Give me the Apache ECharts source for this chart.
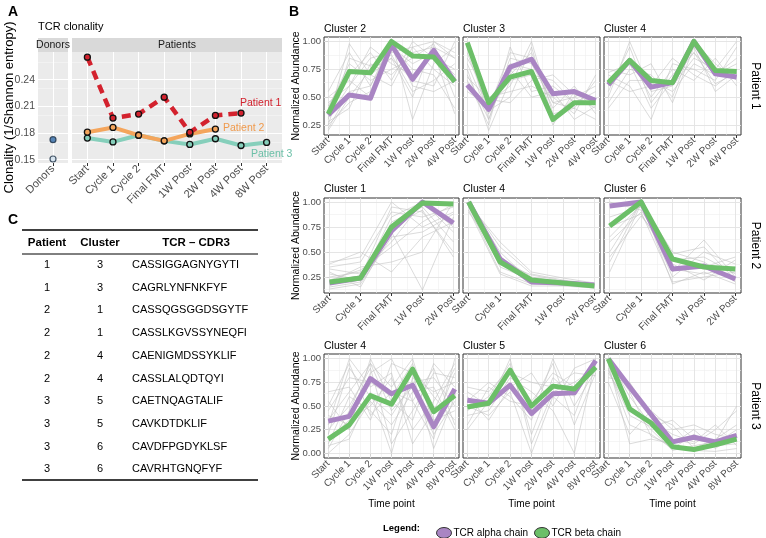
<!DOCTYPE html>
<html><head><meta charset="utf-8">
<script src="https://cdn.jsdelivr.net/npm/echarts@6/dist/echarts.min.js"></script>
<style>html,body{margin:0;padding:0;background:#fff}#c{width:766px;height:538px}</style>
</head><body><div id="c"></div>
<script>
// ================= DATA =================
// Panel A: TCR clonality
const donorCats = ['Donors'];
const clonalityCats = ['Start','Cycle 1','Cycle 2','Final FMT','1W Post','2W Post','4W Post','8W Post'];
const donorValues = [0.1725, 0.1508];
const patient1Clonality = [0.2654, 0.1969, 0.2013, 0.2204, 0.1807, 0.1998, 0.2025, null];
const patient2Clonality = [0.1810, 0.1863, 0.1775, 0.1712, 0.1790, 0.1845, null, null];
const patient3Clonality = [0.1744, 0.1700, 0.1775, 0.1712, 0.1672, 0.1736, 0.1660, 0.1694];
const clonalityTicks = [0.15, 0.18, 0.21, 0.24];

// Panel B: normalized abundance per cluster
const p1Cats = ['Start','Cycle 1','Cycle 2','Final FMT','1W Post','2W Post','4W Post'];
const p2Cats = ['Start','Cycle 1','Final FMT','1W Post','2W Post'];
const p3Cats = ['Start','Cycle 1','Cycle 2','1W Post','2W Post','4W Post','8W Post'];
const abundanceTicks = [0.25, 0.50, 0.75, 1.00];
const abundanceTicksP3 = [0.00, 0.25, 0.50, 0.75, 1.00];

const p1c2Alpha = [0.34,0.52,0.49,0.97,0.66,0.92,0.64];
const p1c2Beta  = [0.35,0.73,0.72,1.00,0.87,0.86,0.64];
const p1c2Grey = [
 [0.22,0.55,0.60,0.95,0.80,0.90,0.70],[0.30,0.98,0.70,0.85,0.50,1.00,0.85],
 [0.45,0.60,0.85,0.90,0.95,0.75,0.60],[0.25,0.45,0.55,1.00,0.30,0.80,0.95],
 [0.40,0.80,0.65,0.75,0.85,0.98,0.50],[0.20,0.50,0.75,0.85,0.65,0.60,1.00],
 [0.35,0.70,0.90,0.65,1.00,0.85,0.75],[0.50,0.65,0.50,0.95,0.75,0.70,0.40],
 [0.28,0.40,0.80,0.70,0.90,0.95,0.85],[0.55,0.90,0.60,1.00,0.60,0.55,0.65],
 [0.32,0.60,0.95,0.80,0.70,0.90,0.35],[0.42,0.75,0.70,0.60,0.95,1.00,0.90],
 [0.25,0.85,0.78,0.88,0.55,0.65,0.80]];

const p1c3Alpha = [0.61,0.39,0.77,0.84,0.53,0.55,0.47];
const p1c3Beta  = [0.99,0.45,0.68,0.73,0.30,0.45,0.45];
const p1c3Grey = [
 [0.80,0.35,0.70,0.90,0.45,0.50,0.40],[0.65,0.25,0.95,0.55,0.60,0.45,0.55],
 [0.95,0.45,0.60,1.00,0.35,0.40,0.65],[0.70,0.30,0.80,0.75,0.25,0.55,0.45],
 [0.85,0.50,0.55,0.60,0.50,0.35,0.70],[0.60,0.40,0.90,0.85,0.40,0.60,0.35],
 [0.75,0.20,0.65,0.70,0.65,0.45,0.50],[0.90,0.38,0.50,0.95,0.30,0.50,0.60],
 [0.55,0.42,0.75,0.50,0.55,0.30,0.42],[1.00,0.30,0.85,0.80,0.45,0.40,0.30],
 [0.68,0.48,0.45,0.65,0.70,0.52,0.48]];

const p1c4Alpha = [0.61,0.83,0.59,0.63,1.00,0.71,0.68];
const p1c4Beta  = [0.63,0.83,0.65,0.63,1.00,0.74,0.73];
const p1c4Grey = [
 [0.55,0.95,0.45,0.70,0.90,0.70,0.80],[0.70,0.60,0.30,0.80,0.75,0.65,0.95],
 [0.45,0.75,0.70,0.50,1.00,0.80,0.65],[0.65,0.55,0.60,0.85,0.70,0.60,0.75],
 [0.50,1.00,0.55,0.60,0.85,0.75,1.00],[0.75,0.70,0.80,0.45,0.95,0.55,0.70],
 [0.60,0.85,0.50,0.75,0.65,0.85,0.60],[0.40,0.65,0.65,0.55,0.80,0.70,0.85],
 [0.72,0.80,0.40,0.65,0.90,0.62,0.72]];

const p2c1Alpha = [0.19,0.24,0.71,1.00,0.79];
const p2c1Beta  = [0.20,0.24,0.75,0.99,0.98];
const p2c1Grey = [
 [0.35,0.40,0.90,0.85,0.95],[0.25,0.30,0.60,1.00,0.70],[0.15,0.20,0.80,0.95,0.60],
 [0.40,0.45,1.00,0.75,0.90],[0.20,0.35,0.40,0.50,1.00],[0.30,0.15,0.70,0.12,0.85],
 [0.18,0.25,0.95,0.90,0.50],[0.38,0.50,0.30,0.65,0.80],[0.28,0.22,0.85,1.00,0.75],
 [0.22,0.32,0.55,0.80,0.98],[0.33,0.28,0.75,0.92,0.45],[0.13,0.18,0.65,0.70,0.88]];

const p2c4Alpha = [1.00,0.43,0.20,0.19,0.17];
const p2c4Beta  = [1.00,0.40,0.22,0.19,0.16];
const p2c4Grey = [
 [1.00,0.55,0.28,0.22,0.18],[0.95,0.30,0.18,0.17,0.15],[0.90,0.45,0.25,0.20,0.16],
 [1.00,0.35,0.22,0.19,0.17],[0.98,0.60,0.30,0.24,0.19],[0.92,0.28,0.16,0.16,0.14],
 [1.00,0.50,0.20,0.18,0.15],[0.96,0.40,0.27,0.21,0.18]];

const p2c6Alpha = [0.96,1.00,0.33,0.36,0.23];
const p2c6Beta  = [0.76,1.00,0.43,0.35,0.33];
const p2c6Grey = [
 [0.40,1.00,0.30,0.62,0.25],[0.85,0.95,0.45,0.35,0.45],[0.60,0.90,0.20,0.25,0.30],
 [0.95,1.00,0.50,0.40,0.20],[0.30,0.98,0.25,0.50,0.38],[0.75,0.88,0.38,0.22,0.42],
 [0.50,1.00,0.18,0.30,0.18],[1.00,0.92,0.42,0.45,0.28],[0.65,0.97,0.33,0.28,0.35],
 [0.45,0.86,0.48,0.55,0.22]];

const p3c4Alpha = [0.34,0.39,0.79,0.63,0.72,0.28,0.68];
const p3c4Beta  = [0.15,0.30,0.61,0.52,0.89,0.44,0.61];
const p3c4Grey = [
 [0.05,0.45,0.95,0.70,1.00,0.30,0.85],[0.20,0.90,0.60,0.40,0.75,0.80,0.50],
 [0.40,0.30,0.85,1.00,0.55,0.15,1.00],[0.10,0.60,0.45,0.20,0.90,0.60,0.35],
 [0.55,0.25,1.00,0.55,0.35,0.95,0.70],[0.30,1.00,0.70,0.85,0.10,0.45,0.90],
 [0.00,0.20,0.55,0.30,0.65,0.70,0.25],[0.65,0.70,0.35,0.95,0.85,0.05,0.60],
 [0.25,0.50,0.90,0.10,0.45,0.85,0.80],[0.45,0.80,0.75,0.60,0.95,0.35,0.45],
 [0.15,0.35,0.50,0.80,0.25,0.55,0.95],[0.35,0.65,0.95,0.45,0.70,0.20,0.55],
 [0.08,0.15,0.65,0.00,0.80,0.65,0.75],[0.50,0.95,0.40,0.65,0.55,0.90,0.30]];

const p3c5Alpha = [0.56,0.53,0.72,0.42,0.63,0.64,0.98];
const p3c5Beta  = [0.49,0.53,0.88,0.50,0.71,0.68,0.91];
const p3c5Grey = [
 [0.45,0.60,0.95,0.20,0.80,0.60,0.95],[0.60,0.35,0.70,0.85,0.50,0.90,1.00],
 [0.30,0.70,0.55,0.50,0.95,0.30,0.85],[0.65,0.50,1.00,0.10,0.65,0.75,0.90],
 [0.40,0.45,0.80,0.65,0.45,0.00,0.98],[0.55,0.75,0.60,0.35,1.00,0.50,0.88],
 [0.25,0.55,0.85,0.75,0.70,0.85,0.82],[0.50,0.40,0.65,0.00,0.60,0.40,1.00],
 [0.70,0.65,0.90,0.55,0.85,0.70,0.92]];

const p3c6Alpha = [1.00,0.70,0.41,0.12,0.17,0.12,0.19];
const p3c6Beta  = [1.00,0.47,0.32,0.07,0.04,0.09,0.15];
const p3c6Grey = [
 [1.00,0.60,0.30,0.15,0.10,0.25,0.45],[0.90,0.30,0.20,0.05,0.20,0.08,0.10],
 [0.80,0.75,0.40,0.30,0.05,0.15,0.30],[0.95,0.10,0.15,0.10,0.25,0.05,0.20],
 [1.00,0.45,0.35,0.20,0.12,0.30,0.08],[0.85,0.50,0.25,0.03,0.08,0.12,0.50],
 [0.75,0.20,0.45,0.25,0.30,0.20,0.15],[0.98,0.65,0.18,0.08,0.03,0.02,0.05],
 [0.88,0.40,0.28,0.35,0.15,0.10,0.25]];

// Panel C: table
const tableHeader = ['Patient','Cluster','TCR \u2013 CDR3'];
const tablePatients = ['1','1','2','2','2','2','3','3','3','3'];
const tableClusters = ['3','3','1','1','4','4','5','5','6','6'];
const tableCDR3 = ['CASSIGGAGNYGYTI','CAGRLYNFNKFYF','CASSQGSGGDSGYTF','CASSLKGVSSYNEQFI',
 'CAENIGMDSSYKLIF','CASSLALQDTQYI','CAETNQAGTALIF','CAVKDTDKLIF','CAVDFPGDYKLSF','CAVRHTGNQFYF'];

// ================= BUILD =================
const FF = '"Liberation Sans", Arial, Helvetica, sans-serif';
const ALPHA = '#a985c3', BETA = '#6cbf68', GREY = '#c2c2c2';
const option = {animation:false, grid:[], xAxis:[], yAxis:[], series:[], graphic:[]};

function idxs(n){const a=[];for(let i=0;i<n;i++)a.push(i);return a;}
function halves(n){const a=[];for(let i=0;i<n-1;i++)a.push(i+0.5);return a;}
function txt(x,y,text,o){o=o||{};option.graphic.push({type:'text',x:x,y:y,rotation:o.rot||0,silent:true,z:100,
  style:{text:text,fill:o.color||'#000',font:(o.bold?'bold ':'')+(o.size||11)+'px '+FF,textAlign:o.align||'left',textVerticalAlign:o.va||'middle'}});}
function rect(x,y,w,h,fill){option.graphic.push({type:'rect',shape:{x:x,y:y,width:w,height:h},style:{fill:fill},silent:true,z:0});}
function hline(x1,x2,y,w){option.graphic.push({type:'line',shape:{x1:x1,y1:y,x2:x2,y2:y},style:{stroke:'#000',lineWidth:w},silent:true});}

function addGrid(l,t,w,h,bg,border){option.grid.push({left:l,top:t,width:w,height:h,show:true,backgroundColor:bg,
  borderColor:border?'#333':'rgba(0,0,0,0)',borderWidth:border?1:0});return option.grid.length-1;}

function addXAxis(gi,cats,pad,fs,name){option.xAxis.push({type:'value',gridIndex:gi,min:-pad,max:cats.length-1+pad,
  axisLine:{show:false},splitLine:{show:false},
  axisTick:{show:true,customValues:idxs(cats.length),length:3,lineStyle:{color:'#333'}},
  axisLabel:{customValues:idxs(cats.length),rotate:45,margin:4,fontSize:fs,color:'#4d4d4d',fontFamily:FF,
    formatter:function(v){return Number.isInteger(v)?cats[v]:'';}},
  name:name||'',nameLocation:'middle',nameGap:41,nameMoveOverlap:false,nameTextStyle:{fontSize:10,color:'#000',fontFamily:FF}});
  return option.xAxis.length-1;}

function addYAxis(gi,min,max,ticks,showLabels,fs,digits,name,nameGap,nameSize,showTicks){option.yAxis.push({type:'value',gridIndex:gi,min:min,max:max,
  axisLine:{show:false},splitLine:{show:false},
  axisTick:{show:showTicks,customValues:ticks,length:3,lineStyle:{color:'#333'}},
  axisLabel:{show:showLabels,customValues:ticks,margin:3,fontSize:fs,color:'#4d4d4d',fontFamily:FF,
    formatter:function(v){return v.toFixed(digits);}},
  name:name||'',nameLocation:'middle',nameGap:nameGap||20,nameMoveOverlap:false,nameTextStyle:{fontSize:nameSize||11,color:'#000',fontFamily:FF}});
  return option.yAxis.length-1;}

function gridLines(xi,yi,xMaj,xMin,yMaj,yMin,st){const d=[];
  yMin.forEach(v=>d.push({yAxis:v,lineStyle:{color:st.minC,width:st.minW,type:'solid'}}));
  xMin.forEach(v=>d.push({xAxis:v,lineStyle:{color:st.minC,width:st.minW,type:'solid'}}));
  yMaj.forEach(v=>d.push({yAxis:v,lineStyle:{color:st.majC,width:st.majW,type:'solid'}}));
  xMaj.forEach(v=>d.push({xAxis:v,lineStyle:{color:st.majC,width:st.majW,type:'solid'}}));
  option.series.push({type:'line',xAxisIndex:xi,yAxisIndex:yi,data:[],silent:true,z:1,symbol:'none',
    markLine:{silent:true,z:1,symbol:['none','none'],label:{show:false},animation:false,data:d}});}

function pts(vals){const out=[];vals.forEach((v,i)=>{if(v!==null)out.push([i,v]);});return out;}

// ---------- Panel A ----------
txt(8,12,'A',{bold:true,size:14});
txt(38,27,'TCR clonality',{size:11});
rect(38,38,30,14,'#d9d9d9'); txt(53,45,'Donors',{align:'center',size:10.5,color:'#1a1a1a'});
rect(72,38,210,14,'#d9d9d9'); txt(177,45,'Patients',{align:'center',size:10.5,color:'#1a1a1a'});
const aMin=0.1463, aMax=0.2712;
const aMinor=[0.165,0.195,0.225,0.255];
const gD=addGrid(38,52,30,111,'#ebebeb',false);
const xD=addXAxis(gD,donorCats,0.6,11);
const yD=addYAxis(gD,aMin,aMax,clonalityTicks,true,10.5,2,'Clonality (1/Shannon entropy)',22,13,true);
const gP=addGrid(72,52,210,111,'#ebebeb',false);
const xP=addXAxis(gP,clonalityCats,0.6,11);
const yP=addYAxis(gP,aMin,aMax,clonalityTicks,false,11,2,'',20,11,false);
const aSt={majC:'#ffffff',majW:1.1,minC:'#f7f7f7',minW:0.6};
gridLines(xD,yD,[0],[],clonalityTicks,aMinor,aSt);
gridLines(xP,yP,idxs(clonalityCats.length),[],clonalityTicks,aMinor,aSt);
option.series.push({type:'scatter',xAxisIndex:xD,yAxisIndex:yD,z:5,symbolSize:6,
  data:[{value:[0,donorValues[0]],itemStyle:{color:'#2f69a6'}},{value:[0,donorValues[1]],itemStyle:{color:'#cfe0ee'}}],
  itemStyle:{borderColor:'#1b2f45',borderWidth:1.2}});
const patientStyles=[
  {vals:patient3Clonality,color:'#86cfbb',type:'solid',w:4,z:3},
  {vals:patient2Clonality,color:'#f4a55c',type:'solid',w:4,z:4},
  {vals:patient1Clonality,color:'#d3222e',type:[9,6],w:4.5,z:5}];
patientStyles.forEach(p=>{option.series.push({type:'line',xAxisIndex:xP,yAxisIndex:yP,z:p.z,data:pts(p.vals),
  symbol:'circle',symbolSize:6,showSymbol:true,lineStyle:{color:p.color,width:p.w,type:p.type},
  itemStyle:{color:p.color,borderColor:'#111',borderWidth:1.3}});});
txt(240,103,'Patient 1',{color:'#d3222e',size:10.5});
txt(223,128,'Patient 2',{color:'#f09a4c',size:10.5});
txt(251,154,'Patient 3',{color:'#6cc0a8',size:10.5});

// ---------- Panel B ----------
txt(289,12,'B',{bold:true,size:14});
const colLeft=[324,463,604], colWidth=[135,137,137];
const rowTop=[37,198,354], rowHeight=[98,95,104];
const rowMin=[0.16,0.09,-0.05], rowMax=[1.04,1.04,1.05];
const rowCats=[p1Cats,p2Cats,p3Cats];
const rowTicks=[abundanceTicks,abundanceTicks,abundanceTicksP3];
const rowPad=[0.2,0.18,0.2];
const rowTitleY=[29,189,346];
const panelsB=[
 [{t:'Cluster 2',a:p1c2Alpha,b:p1c2Beta,g:p1c2Grey},{t:'Cluster 3',a:p1c3Alpha,b:p1c3Beta,g:p1c3Grey},{t:'Cluster 4',a:p1c4Alpha,b:p1c4Beta,g:p1c4Grey}],
 [{t:'Cluster 1',a:p2c1Alpha,b:p2c1Beta,g:p2c1Grey},{t:'Cluster 4',a:p2c4Alpha,b:p2c4Beta,g:p2c4Grey},{t:'Cluster 6',a:p2c6Alpha,b:p2c6Beta,g:p2c6Grey}],
 [{t:'Cluster 4',a:p3c4Alpha,b:p3c4Beta,g:p3c4Grey},{t:'Cluster 5',a:p3c5Alpha,b:p3c5Beta,g:p3c5Grey},{t:'Cluster 6',a:p3c6Alpha,b:p3c6Beta,g:p3c6Grey}]];
const patientNames=['Patient 1','Patient 2','Patient 3'];
const bSt={majC:'#e2e2e2',majW:0.9,minC:'#eeeeee',minW:0.6};
for(let r=0;r<3;r++){
  const cats=rowCats[r];
  const minorY=[0.125,0.375,0.625,0.875].filter(v=>v>rowMin[r]&&v<rowMax[r]);
  for(let c=0;c<3;c++){
    const P=panelsB[r][c];
    const g=addGrid(colLeft[c],rowTop[r],colWidth[c],rowHeight[r],'#ffffff',true);
    const xi=addXAxis(g,cats,rowPad[r],10,r===2?'Time point':'');
    const yi=addYAxis(g,rowMin[r],rowMax[r],rowTicks[r],c===0,9.5,2,c===0?'Normalized Abundance':'',22,10.5,true);
    gridLines(xi,yi,idxs(cats.length),halves(cats.length),rowTicks[r],minorY,bSt);
    P.g.forEach(line=>option.series.push({type:'line',xAxisIndex:xi,yAxisIndex:yi,z:2,silent:true,symbol:'none',
      data:pts(line),lineStyle:{color:GREY,width:0.6}}));
    option.series.push({name:'TCR alpha chain',type:'line',xAxisIndex:xi,yAxisIndex:yi,z:3,symbol:'none',color:ALPHA,
      data:pts(P.a),lineStyle:{color:ALPHA,width:5,join:'round'}});
    option.series.push({name:'TCR beta chain',type:'line',xAxisIndex:xi,yAxisIndex:yi,z:4,symbol:'none',color:BETA,
      data:pts(P.b),lineStyle:{color:BETA,width:5,join:'round'}});
    txt(colLeft[c],rowTitleY[r],P.t,{size:10.5});
  }
  txt(755,rowTop[r]+rowHeight[r]/2,patientNames[r],{rot:-Math.PI/2,align:'center',size:12});
}
option.legend={data:['TCR alpha chain','TCR beta chain'],left:431,top:522,orient:'horizontal',
  icon:'path://M0,50A50,36 0 1,1 100,50A50,36 0 1,1 0,50Z',itemWidth:15,itemHeight:11,itemGap:6,selectedMode:false,
  textStyle:{fontSize:10,color:'#000',fontFamily:FF,padding:[0,0,0,-3]},itemStyle:{borderColor:'#333',borderWidth:1}};
txt(383,528,'Legend:',{bold:true,size:9.5});

// ---------- Panel C ----------
txt(8,220,'C',{bold:true,size:14});
hline(22,258,230,1.5);
hline(22,258,254,1);
hline(22,258,480,1.5);
const colX=[47,100,196];
tableHeader.forEach((h,i)=>txt(colX[i],243,h,{bold:true,size:11.5,align:'center'}));
for(let i=0;i<tablePatients.length;i++){
  const y=265+i*22.7;
  txt(47,y,tablePatients[i],{size:11,align:'center'});
  txt(100,y,tableClusters[i],{size:11,align:'center'});
  txt(132,y,tableCDR3[i],{size:11});
}

const chart=echarts.init(document.getElementById('c'),null,{renderer:'canvas'});
chart.setOption(option);
</script></body></html>
